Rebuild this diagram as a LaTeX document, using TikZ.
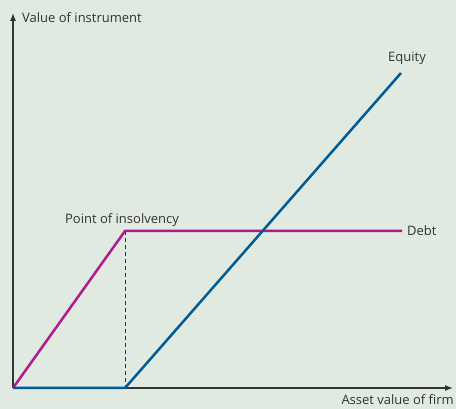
\documentclass[tikz,border=0pt]{standalone}
\usepackage{fontspec}
\setmainfont{Open Sans}
\usetikzlibrary{positioning, arrows.meta}
\definecolor{bgc}{HTML}{E0EAE1}
\definecolor{debtc}{HTML}{B01A8E}
\definecolor{eqc}{HTML}{005B97}
\definecolor{axc}{HTML}{333333}
\begin{document}
\begin{tikzpicture}
			[x=1pt, y=1pt, font=\fontsize{13}{15}\selectfont, text=axc]
			\fill[bgc] (0,0) rectangle (456,409);
			\useasboundingbox (0,0) rectangle (456,409);
			% nodes %
			\coordinate (o) at (13,21);
			\coordinate (ytop) at (13,396);
			\coordinate (xend) at (453,21);
			\coordinate (ins) at (125,178);
			\coordinate (insb) at (125,21);
			\coordinate (dend) at (402,178);
			\coordinate (eend) at (401,336);
			\node[anchor=west, inner sep=0pt] (vlab) at (22,391) {Value of instrument};
			\node[anchor=north east, inner sep=0pt] (alab) at (454,15) {Asset value of firm};
			\node[above=4pt of ins, xshift=-3pt, inner sep=0pt] (ilab) {Point of insolvency};
			\node[right=5pt of dend, inner sep=0pt] (dlab) {Debt};
			\node[above=8pt of eend, xshift=6pt, inner sep=0pt] (elab) {Equity};

			% edges %
			\draw[-{Latex[length=8pt, width=6pt]}, axc, line width=1.2] (o) -- (ytop);
			\draw[-{Latex[length=8pt, width=6pt]}, axc, line width=1.2] (o) -- (xend);
			\draw[axc, line width=.8, dash pattern=on 4pt off 3pt] (ins) -- (insb);
			\draw[debtc, line width=2.5] (o) -- (ins) -- (dend);
			\draw[eqc, line width=2.5] (o) -- (insb) -- (eend);
			\end{tikzpicture}
\end{document}
